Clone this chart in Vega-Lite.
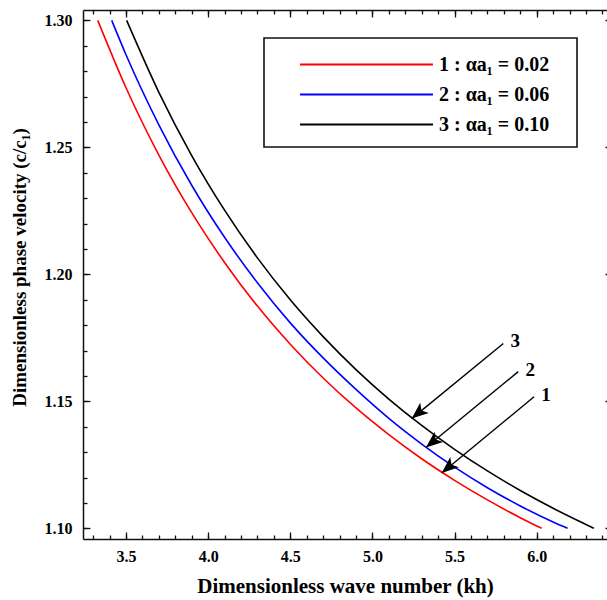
{
  "$schema": "https://vega.github.io/schema/vega-lite/v6.json",
  "width": 524,
  "height": 529,
  "autosize": {"type": "none"},
  "padding": {"left": 83, "top": 10, "right": 0, "bottom": 61},
  "background": "white",
  "config": {
    "view": {"stroke": null},
    "axis": {
      "labelFont": "Liberation Serif", "labelFontWeight": "bold", "labelFontSize": 16, "labelColor": "black",
      "titleFont": "Liberation Serif", "titleFontWeight": "bold", "titleFontSize": 19, "titleColor": "black",
      "domainColor": "#111", "domainWidth": 1.5, "tickColor": "#111", "tickWidth": 1.3, "grid": false
    }
  },
  "datasets": {
    "curves": [
      {"series": "1 : αa₁ = 0.02", "kh": 3.328, "c": 1.3000},
      {"series": "1 : αa₁ = 0.02", "kh": 3.5, "c": 1.2735},
      {"series": "1 : αa₁ = 0.02", "kh": 3.7, "c": 1.2470},
      {"series": "1 : αa₁ = 0.02", "kh": 3.9, "c": 1.2243},
      {"series": "1 : αa₁ = 0.02", "kh": 4.1, "c": 1.2047},
      {"series": "1 : αa₁ = 0.02", "kh": 4.3, "c": 1.1875},
      {"series": "1 : αa₁ = 0.02", "kh": 4.5, "c": 1.1725},
      {"series": "1 : αa₁ = 0.02", "kh": 4.7, "c": 1.1592},
      {"series": "1 : αa₁ = 0.02", "kh": 4.9, "c": 1.1474},
      {"series": "1 : αa₁ = 0.02", "kh": 5.1, "c": 1.1369},
      {"series": "1 : αa₁ = 0.02", "kh": 5.3, "c": 1.1274},
      {"series": "1 : αa₁ = 0.02", "kh": 5.5, "c": 1.1189},
      {"series": "1 : αa₁ = 0.02", "kh": 5.7, "c": 1.1112},
      {"series": "1 : αa₁ = 0.02", "kh": 5.9, "c": 1.1042},
      {"series": "1 : αa₁ = 0.02", "kh": 6.03, "c": 1.1000},
      {"series": "2 : αa₁ = 0.06", "kh": 3.413, "c": 1.3000},
      {"series": "2 : αa₁ = 0.06", "kh": 3.5, "c": 1.2865},
      {"series": "2 : αa₁ = 0.06", "kh": 3.7, "c": 1.2589},
      {"series": "2 : αa₁ = 0.06", "kh": 3.9, "c": 1.2351},
      {"series": "2 : αa₁ = 0.06", "kh": 4.1, "c": 1.2146},
      {"series": "2 : αa₁ = 0.06", "kh": 4.3, "c": 1.1967},
      {"series": "2 : αa₁ = 0.06", "kh": 4.5, "c": 1.1809},
      {"series": "2 : αa₁ = 0.06", "kh": 4.7, "c": 1.1671},
      {"series": "2 : αa₁ = 0.06", "kh": 4.9, "c": 1.1547},
      {"series": "2 : αa₁ = 0.06", "kh": 5.1, "c": 1.1433},
      {"series": "2 : αa₁ = 0.06", "kh": 5.3, "c": 1.1332},
      {"series": "2 : αa₁ = 0.06", "kh": 5.5, "c": 1.1241},
      {"series": "2 : αa₁ = 0.06", "kh": 5.7, "c": 1.1160},
      {"series": "2 : αa₁ = 0.06", "kh": 5.9, "c": 1.1088},
      {"series": "2 : αa₁ = 0.06", "kh": 6.1, "c": 1.1025},
      {"series": "2 : αa₁ = 0.06", "kh": 6.188, "c": 1.1000},
      {"series": "3 : αa₁ = 0.10", "kh": 3.504, "c": 1.3000},
      {"series": "3 : αa₁ = 0.10", "kh": 3.7, "c": 1.2717},
      {"series": "3 : αa₁ = 0.10", "kh": 3.9, "c": 1.2468},
      {"series": "3 : αa₁ = 0.10", "kh": 4.1, "c": 1.2253},
      {"series": "3 : αa₁ = 0.10", "kh": 4.3, "c": 1.2065},
      {"series": "3 : αa₁ = 0.10", "kh": 4.5, "c": 1.1900},
      {"series": "3 : αa₁ = 0.10", "kh": 4.7, "c": 1.1755},
      {"series": "3 : αa₁ = 0.10", "kh": 4.9, "c": 1.1625},
      {"series": "3 : αa₁ = 0.10", "kh": 5.1, "c": 1.1509},
      {"series": "3 : αa₁ = 0.10", "kh": 5.3, "c": 1.1405},
      {"series": "3 : αa₁ = 0.10", "kh": 5.5, "c": 1.1311},
      {"series": "3 : αa₁ = 0.10", "kh": 5.7, "c": 1.1226},
      {"series": "3 : αa₁ = 0.10", "kh": 5.9, "c": 1.1149},
      {"series": "3 : αa₁ = 0.10", "kh": 6.1, "c": 1.1079},
      {"series": "3 : αa₁ = 0.10", "kh": 6.3, "c": 1.1015},
      {"series": "3 : αa₁ = 0.10", "kh": 6.348, "c": 1.1000}
    ],
    "arrows": [
      {"label": "3", "x": 5.797, "y": 1.1728, "tipx": 5.239, "tipy": 1.1432},
      {"label": "2", "x": 5.888, "y": 1.1617, "tipx": 5.326, "tipy": 1.1318},
      {"label": "1", "x": 5.984, "y": 1.1518, "tipx": 5.422, "tipy": 1.1218}
    ]
  },
  "resolve": {"axis": {"x": "independent", "y": "independent"}},
  "layer": [
    {
      "data": {"name": "curves"},
      "mark": {"type": "line", "interpolate": "monotone", "strokeWidth": 1.6},
      "encoding": {
        "x": {"field": "kh", "type": "quantitative",
          "scale": {"domain": [3.2383, 6.428], "nice": false, "zero": false},
          "axis": {"orient": "bottom", "values": [3.5, 4, 4.5, 5, 5.5, 6], "format": ".1f", "tickSize": -7, "labelPadding": 16,
            "title": "Dimensionless wave number (kh)", "titleFontSize": 21, "titlePadding": 11}},
        "y": {"field": "c", "type": "quantitative",
          "scale": {"domain": [1.0958, 1.3041], "nice": false, "zero": false},
          "axis": {"orient": "left", "values": [1.1, 1.15, 1.2, 1.25, 1.3], "format": ".2f", "tickSize": -7, "labelPadding": 18,
            "title": "Dimensionless phase velocity (c/c₁)", "titlePadding": 15, "titleY": 257}},
        "color": {"field": "series", "type": "nominal",
          "scale": {"domain": ["1 : αa₁ = 0.02", "2 : αa₁ = 0.06", "3 : αa₁ = 0.10"], "range": ["#ff0000", "#0000ff", "#000000"]},
          "legend": {"orient": "none", "legendX": 181, "legendY": 28, "title": null, "strokeColor": "#111", "padding": 12,
            "symbolType": "M-5,0L5,0", "symbolSize": 707, "symbolStrokeWidth": 2, "symbolOffset": 76, "labelOffset": 58,
            "labelFont": "Liberation Serif", "labelFontWeight": "bold", "labelFontSize": 20, "labelColor": "black", "rowPadding": 5,
            "labelExpr": "datum.label + '\u00a0\u00a0\u00a0\u200b'",
            "encode": {"legend": {"update": {"strokeWidth": {"value": 1.6}}}}}}
      }
    },
    {
      "data": {"name": "arrows"},
      "mark": {"type": "rule", "strokeWidth": 1.4, "color": "black"},
      "encoding": {
        "x": {"field": "x", "type": "quantitative",
          "scale": {"domain": [3.2383, 6.428], "nice": false, "zero": false},
          "axis": {"orient": "bottom", "values": [3.3, 3.4, 3.5, 3.6, 3.7, 3.8, 3.9, 4.0, 4.1, 4.2, 4.3, 4.4, 4.5, 4.6, 4.7, 4.8, 4.9, 5.0, 5.1, 5.2, 5.3, 5.4, 5.5, 5.6, 5.7, 5.8, 5.9, 6.0, 6.1, 6.2, 6.3, 6.4],
            "labels": false, "domain": false, "tickSize": -4, "title": null}},
        "y": {"field": "y", "type": "quantitative",
          "scale": {"domain": [1.0958, 1.3041], "nice": false, "zero": false},
          "axis": {"orient": "left", "values": [1.10, 1.11, 1.12, 1.13, 1.14, 1.15, 1.16, 1.17, 1.18, 1.19, 1.20, 1.21, 1.22, 1.23, 1.24, 1.25, 1.26, 1.27, 1.28, 1.29, 1.30],
            "labels": false, "domain": false, "tickSize": -4, "title": null}},
        "x2": {"field": "tipx"},
        "y2": {"field": "tipy"}
      }
    },
    {
      "data": {"name": "arrows"},
      "mark": {"type": "point", "shape": "M0,0L-0.5,1.25L0,0.95L0.5,1.25Z", "filled": true, "color": "black", "opacity": 1, "size": 720, "angle": 230},
      "encoding": {
        "x": {"field": "tipx", "type": "quantitative",
          "scale": {"domain": [3.2383, 6.428], "nice": false, "zero": false},
          "axis": {"orient": "top", "values": [3.5, 4, 4.5, 5, 5.5, 6], "labels": false, "tickSize": -7, "title": null}},
        "y": {"field": "tipy", "type": "quantitative",
          "scale": {"domain": [1.0958, 1.3041], "nice": false, "zero": false},
          "axis": {"orient": "right", "offset": 5, "values": [1.1, 1.15, 1.2, 1.25, 1.3], "labels": false, "domain": false, "tickSize": -7, "title": null}}
      }
    },
    {
      "data": {"name": "arrows"},
      "mark": {"type": "text", "font": "Liberation Serif", "fontWeight": "bold", "fontSize": 19, "dx": 12, "dy": -2, "align": "center", "baseline": "middle", "color": "black"},
      "encoding": {
        "x": {"field": "x", "type": "quantitative",
          "scale": {"domain": [3.2383, 6.428], "nice": false, "zero": false},
          "axis": {"orient": "top", "values": [3.3, 3.4, 3.5, 3.6, 3.7, 3.8, 3.9, 4.0, 4.1, 4.2, 4.3, 4.4, 4.5, 4.6, 4.7, 4.8, 4.9, 5.0, 5.1, 5.2, 5.3, 5.4, 5.5, 5.6, 5.7, 5.8, 5.9, 6.0, 6.1, 6.2, 6.3, 6.4],
            "labels": false, "domain": false, "tickSize": -4, "title": null}},
        "y": {"field": "y", "type": "quantitative",
          "scale": {"domain": [1.0958, 1.3041], "nice": false, "zero": false},
          "axis": null},
        "text": {"field": "label"}
      }
    }
  ]
}
